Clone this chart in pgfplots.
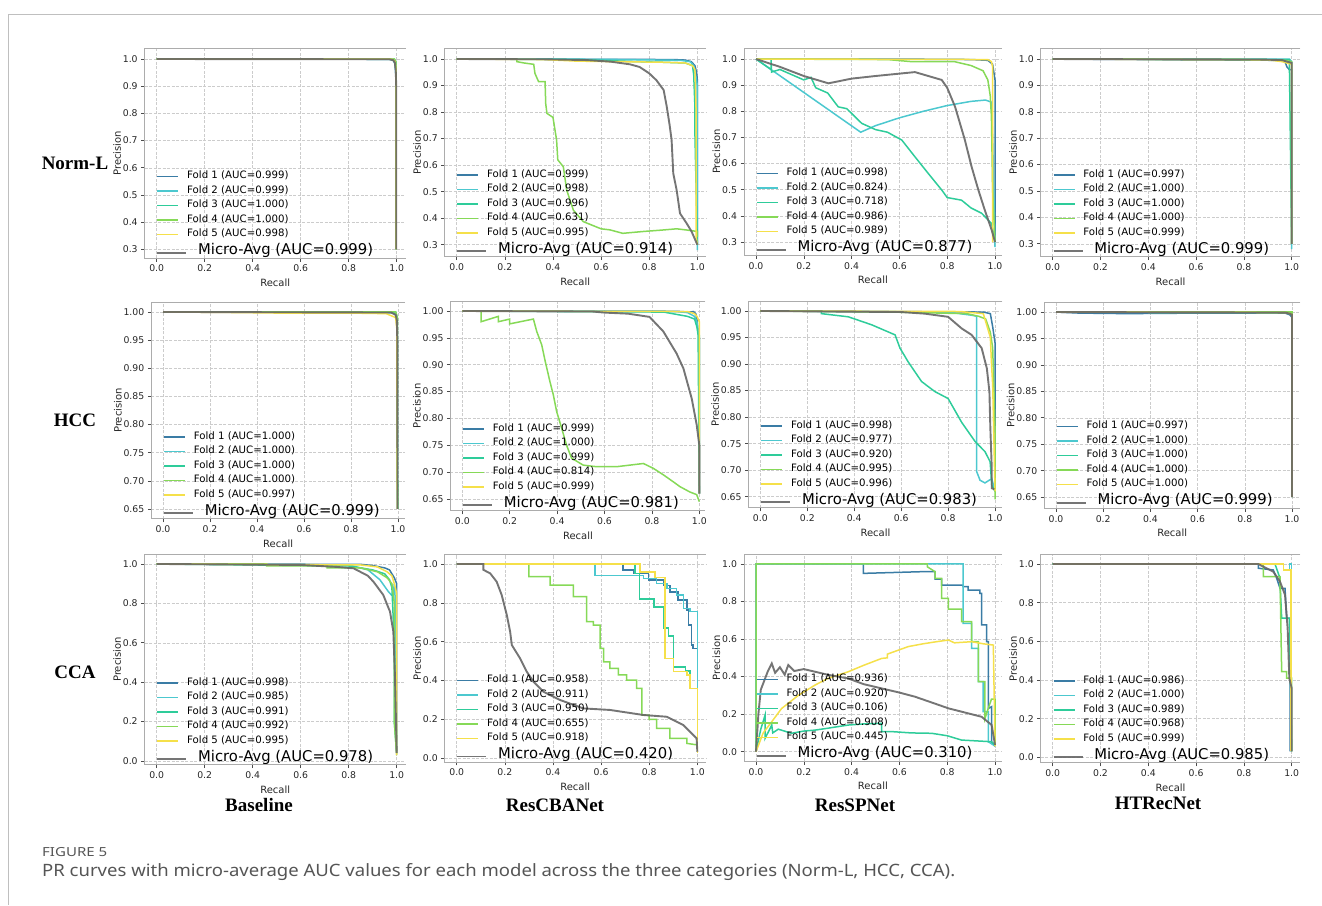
\documentclass[border=0pt]{standalone}
\usepackage{fontspec}
\setmainfont{DejaVu Sans}
\newfontfamily\timesf{Liberation Serif}
\newfontfamily\capf{Noto Sans}
\usepackage{graphicx}
\usepackage{pgfplots}
\pgfplotsset{compat=1.18}
\definecolor{cf1}{HTML}{3A7CA5}
\definecolor{cf2}{HTML}{4CC8CF}
\definecolor{cf3}{HTML}{2ECC9A}
\definecolor{cf4}{HTML}{86D957}
\definecolor{cf5}{HTML}{F5E04A}
\definecolor{cmi}{HTML}{666666}
\definecolor{capgray}{HTML}{555555}
\pgfplotsset{
  legend image code/.code={\draw[#1] (0pt,0pt) -- (21pt,0pt);},
  f1/.style={cf1, line width=1.5pt},
  f2/.style={cf2, line width=1.5pt},
  f3/.style={cf3, line width=1.5pt},
  f4/.style={cf4, line width=1.5pt},
  f5/.style={cf5, line width=1.5pt},
  mi/.style={cmi, line width=1.9pt, opacity=0.9,
    legend image code/.code={\draw[##1,overlay] (0pt,-3.7pt) -- (29pt,-3.7pt);}},
  pr/.style={
    anchor=north west,
    axis line style={draw=none},
    xtick pos=lower, ytick pos=left,
    tick align=outside, major tick length=3.5pt,
    tick style={black!70, line width=0.6pt},
    grid=major,
    grid style={gray!40, dash pattern=on 3pt off 1.5pt, line width=0.5pt},
    xmin=-0.05,
    xtick={0,0.2,0.4,0.6,0.8,1},
    xticklabels={0.0,0.2,0.4,0.6,0.8,1.0},
    ticklabel style={font=\fontsize{9.3}{9.3}\selectfont, text=black!85},
    xlabel={Recall}, ylabel={Precision}, ylabel shift=-5pt,
    label style={font=\fontsize{10}{10}\selectfont, text=black!85},
    legend cell align=left,
    legend style={draw=none, fill=none, at={(0,0)}, anchor=north west,
      xshift=12pt, yshift=86.4pt, inner sep=0pt, outer sep=0pt,
      row sep=5pt, column sep=8pt, font=\fontsize{10.2}{10.2}\selectfont,
      nodes={inner sep=0pt, text height=7pt, text depth=2.5pt}},
    extra description/.code={\draw[gray!65, line width=0.8pt] (1,1) -- (0,1) -- (0,0) -- (1,0);},
  },
  r1/.style={ytick={0.3,0.4,0.5,0.6,0.7,0.8,0.9,1.0}, yticklabels={0.3,0.4,0.5,0.6,0.7,0.8,0.9,1.0}},
  r2/.style={ytick={0.65,0.7,0.75,0.8,0.85,0.9,0.95,1}, yticklabels={0.65,0.70,0.75,0.80,0.85,0.90,0.95,1.00}},
  r3/.style={ytick={0,0.2,0.4,0.6,0.8,1}, yticklabels={0.0,0.2,0.4,0.6,0.8,1.0}},
}
\newcommand{\micro}[1]{\addlegendentry{\hspace*{11pt}\raisebox{-3.7pt}{\fontsize{14.8}{14.8}\selectfont Micro-Avg (AUC=#1)}}}
\newcommand{\captext}{PR curves with micro-average AUC values for each model across the three categories (Norm-L, HCC, CCA).}
\newlength{\capw}
\newlength{\figw}
\begin{document}%
\settowidth{\capw}{\capf\fontsize{17}{17}\selectfont \captext}%
\settowidth{\figw}{\capf\bfseries\fontsize{12.5}{12.5}\selectfont FIGURE 5}%
\pgfmathsetmacro{\capsx}{913/(\capw/1pt)}%
\pgfmathsetmacro{\figsx}{65/(\figw/1pt)}%
\begin{tikzpicture}
\path[use as bounding box] (0pt,0pt) rectangle (1322pt,-905pt);
\draw[gray!50, line width=0.8pt] (8pt,-14pt) -- (1322pt,-14pt);
\draw[gray!50, line width=0.8pt] (8pt,-14pt) -- (8pt,-905pt);

% ================= Row 1: Norm-L =================
\begin{axis}[pr, r1, at={(144.7pt,-48.4pt)}, x=240pt, y=271.9pt, xmax=1.0375, ymin=0.268, ymax=1.039]
\addplot[f1] coordinates {(0,1)(0.97,0.999)(0.985,0.995)(0.992,0.985)(0.996,0.95)(0.998,0.85)(0.998,0.3)};
\addlegendentry{Fold 1 (AUC=0.999)}
\addplot[f2] coordinates {(0,1)(0.975,0.999)(0.988,0.995)(0.994,0.98)(0.997,0.93)(0.998,0.3)};
\addlegendentry{Fold 2 (AUC=0.999)}
\addplot[f3] coordinates {(0,1)(0.99,1.0)(0.997,0.99)(0.998,0.3)};
\addlegendentry{Fold 3 (AUC=1.000)}
\addplot[f4] coordinates {(0,1)(0.99,1.0)(0.997,0.99)(0.998,0.3)};
\addlegendentry{Fold 4 (AUC=1.000)}
\addplot[f5] coordinates {(0,1)(0.97,1.0)(0.985,0.998)(0.993,0.99)(0.997,0.96)(0.998,0.3)};
\addlegendentry{Fold 5 (AUC=0.998)}
\addplot[mi] coordinates {(0,1)(0.97,0.999)(0.985,0.996)(0.992,0.988)(0.996,0.96)(0.998,0.9)(0.998,0.3)};
\micro{0.999}
\end{axis}

\begin{axis}[pr, r1, at={(444.7pt,-48.4pt)}, x=240.6pt, y=265.3pt, xmax=1.035, ymin=0.255, ymax=1.04]
\addplot[f1] coordinates {(0,1)(0.9,0.998)(0.95,0.996)(0.975,0.99)(0.99,0.975)(0.997,0.95)(1.0,0.92)(1.0,0.3)};
\addlegendentry{Fold 1 (AUC=0.999)}
\addplot[f2] coordinates {(0,1)(0.6,0.999)(0.93,0.995)(0.97,0.99)(0.985,0.975)(0.99,0.95)(0.995,0.93)(1.0,0.9)(1.0,0.28)};
\addlegendentry{Fold 2 (AUC=0.998)}
\addplot[f3] coordinates {(0,1)(0.5,0.998)(0.75,0.99)(0.85,0.988)(0.95,0.985)(0.98,0.975)(0.985,0.94)(0.99,0.82)(0.99,0.72)(1.0,0.3)};
\addlegendentry{Fold 3 (AUC=0.996)}
\addplot[f4] coordinates {(0,1)(0.25,1.0)(0.25,0.99)(0.28,0.985)(0.32,0.98)(0.325,0.946)(0.34,0.915)(0.367,0.915)(0.37,0.83)(0.375,0.795)(0.40,0.78)(0.415,0.695)(0.42,0.62)(0.443,0.594)(0.457,0.506)(0.485,0.43)(0.526,0.387)(0.6,0.36)(0.637,0.356)(0.69,0.343)(0.776,0.35)(0.85,0.355)(0.914,0.36)(0.96,0.355)(1.0,0.35)(1.0,0.33)};
\addlegendentry{Fold 4 (AUC=0.631)}
\addplot[f5] coordinates {(0,1)(0.36,0.998)(0.5,0.992)(0.85,0.988)(0.95,0.985)(0.98,0.975)(0.99,0.96)(0.995,0.8)(0.995,0.33)(1.0,0.3)};
\addlegendentry{Fold 5 (AUC=0.995)}
\addplot[mi] coordinates {(0,1)(0.36,0.999)(0.54,0.996)(0.64,0.99)(0.72,0.98)(0.76,0.97)(0.80,0.946)(0.83,0.92)(0.86,0.883)(0.873,0.82)(0.885,0.75)(0.893,0.695)(0.9,0.569)(0.914,0.506)(0.928,0.418)(0.956,0.38)(0.976,0.35)(1.0,0.3)};
\micro{0.914}
\end{axis}

\begin{axis}[pr, r1, at={(744.05pt,-48.3pt)}, x=239pt, y=261.4pt, xmax=1.028, ymin=0.25, ymax=1.041]
\addplot[f1] coordinates {(0,1)(0.55,1.0)(0.9,0.998)(0.97,0.995)(0.99,0.98)(0.995,0.95)(1.0,0.92)(1.0,0.82)(1.0,0.3)};
\addlegendentry{Fold 1 (AUC=0.998)}
\addplot[f2] coordinates {(0,1)(0.438,0.72)(0.5,0.745)(0.6,0.775)(0.7,0.80)(0.8,0.822)(0.9,0.838)(0.96,0.843)(0.985,0.835)(0.99,0.7)(1.0,0.28)};
\addlegendentry{Fold 2 (AUC=0.824)}
\addplot[f3] coordinates {(0,1)(0.063,0.96)(0.063,1.0)(0.065,0.95)(0.1,0.96)(0.15,0.94)(0.2,0.92)(0.23,0.93)(0.25,0.89)(0.3,0.87)(0.344,0.817)(0.38,0.81)(0.442,0.754)(0.5,0.73)(0.55,0.72)(0.61,0.69)(0.665,0.626)(0.72,0.563)(0.777,0.499)(0.8,0.47)(0.86,0.46)(0.9,0.43)(0.944,0.41)(0.986,0.37)(1.0,0.3)};
\addlegendentry{Fold 3 (AUC=0.718)}
\addplot[f4] coordinates {(0,1)(0.55,0.998)(0.65,0.99)(0.83,0.99)(0.9,0.975)(0.95,0.955)(0.97,0.92)(0.98,0.86)(0.985,0.78)(0.99,0.5)(1.0,0.3)};
\addlegendentry{Fold 4 (AUC=0.986)}
\addplot[f5] coordinates {(0,1)(0.97,0.998)(0.985,0.99)(0.99,0.97)(0.99,0.3)};
\addlegendentry{Fold 5 (AUC=0.989)}
\addplot[mi] coordinates {(0,1)(0.1,0.97)(0.2,0.935)(0.303,0.907)(0.4,0.925)(0.5,0.935)(0.665,0.95)(0.777,0.92)(0.8,0.89)(0.833,0.817)(0.874,0.69)(0.902,0.588)(0.93,0.50)(0.958,0.42)(0.986,0.346)(1.0,0.3)};
\micro{0.877}
\end{axis}

\begin{axis}[pr, r1, at={(1040.75pt,-48.2pt)}, x=239pt, y=263.9pt, xmax=1.036, ymin=0.251, ymax=1.041]
\addplot[f1] coordinates {(0,1)(0.97,0.995)(0.98,0.97)(0.99,0.96)(1.0,0.96)(1.0,0.3)};
\addlegendentry{Fold 1 (AUC=0.997)}
\addplot[f2] coordinates {(0,1)(0.99,1.0)(1.0,0.99)(1.0,0.28)};
\addlegendentry{Fold 2 (AUC=1.000)}
\addplot[f3] coordinates {(0,1)(0.99,0.998)(1.0,0.3)};
\addlegendentry{Fold 3 (AUC=1.000)}
\addplot[f4] coordinates {(0,1)(0.87,0.998)(0.97,0.995)(1.0,0.99)(1.0,0.3)};
\addlegendentry{Fold 4 (AUC=1.000)}
\addplot[f5] coordinates {(0,1)(0.9,0.997)(0.96,0.99)(0.98,0.985)(1.0,0.98)(1.0,0.3)};
\addlegendentry{Fold 5 (AUC=0.999)}
\addplot[mi] coordinates {(0,1)(0.87,0.998)(0.96,0.996)(0.98,0.99)(1.0,0.985)(1.0,0.3)};
\micro{0.999}
\end{axis}

% ================= Row 2: HCC =================
\begin{axis}[pr, r2, at={(151.25pt,-302.1pt)}, x=235pt, y=562.9pt, xmax=1.03, ymin=0.6325, ymax=1.0175]
\addplot[f1] coordinates {(0,1)(0.98,0.999)(0.99,0.995)(0.995,0.98)(0.997,0.95)(0.998,0.65)};
\addlegendentry{Fold 1 (AUC=1.000)}
\addplot[f2] coordinates {(0,1)(0.98,0.999)(0.99,0.996)(0.995,0.985)(0.998,0.65)};
\addlegendentry{Fold 2 (AUC=1.000)}
\addplot[f3] coordinates {(0,1)(0.99,1.0)(0.997,0.99)(0.998,0.65)};
\addlegendentry{Fold 3 (AUC=1.000)}
\addplot[f4] coordinates {(0,1)(0.99,1.0)(0.997,0.99)(0.998,0.65)};
\addlegendentry{Fold 4 (AUC=1.000)}
\addplot[f5] coordinates {(0,1)(0.3,0.999)(0.5,0.998)(0.8,0.998)(0.95,0.997)(0.99,0.99)(0.995,0.97)(0.997,0.65)};
\addlegendentry{Fold 5 (AUC=0.997)}
\addplot[mi] coordinates {(0,1)(0.97,0.999)(0.99,0.995)(0.995,0.985)(0.997,0.95)(0.998,0.65)};
\micro{0.999}
\end{axis}

\begin{axis}[pr, r2, at={(450.45pt,-301pt)}, x=237pt, y=537pt, xmax=1.026, ymin=0.628, ymax=1.0186]
\addplot[f1] coordinates {(0,1)(0.9,0.9995)(0.96,0.998)(0.975,0.999)(0.985,0.995)(0.99,0.985)(0.995,0.96)(1.0,0.95)(1.0,0.66)};
\addlegendentry{Fold 1 (AUC=0.999)}
\addplot[f2] coordinates {(0,1)(0.9,0.999)(0.95,0.997)(0.98,0.99)(0.99,0.98)(0.995,0.96)(1.0,0.955)(1.0,0.66)};
\addlegendentry{Fold 2 (AUC=1.000)}
\addplot[f3] coordinates {(0,1)(0.85,0.998)(0.95,0.99)(0.98,0.985)(0.99,0.97)(0.995,0.955)(1.0,0.66)};
\addlegendentry{Fold 3 (AUC=0.999)}
\addplot[f4] coordinates {(0,1)(0.079,1)(0.079,0.98)(0.152,0.99)(0.152,0.98)(0.2,0.985)(0.2,0.976)(0.3,0.985)(0.314,0.962)(0.335,0.937)(0.35,0.906)(0.37,0.868)(0.384,0.844)(0.398,0.813)(0.419,0.782)(0.44,0.75)(0.461,0.726)(0.51,0.713)(0.567,0.71)(0.65,0.71)(0.764,0.716)(0.806,0.707)(0.848,0.695)(0.89,0.682)(0.918,0.673)(0.96,0.663)(0.989,0.658)(1.0,0.645)};
\addlegendentry{Fold 4 (AUC=0.814)}
\addplot[f5] coordinates {(0,1)(0.95,0.999)(0.98,0.995)(0.99,0.99)(1.0,0.98)(1.0,0.75)(1.0,0.66)};
\addlegendentry{Fold 5 (AUC=0.999)}
\addplot[mi] coordinates {(0,1)(0.55,0.999)(0.6,0.997)(0.7,0.995)(0.79,0.989)(0.848,0.962)(0.904,0.921)(0.933,0.893)(0.968,0.837)(0.989,0.788)(1.0,0.75)(1.0,0.66)};
\micro{0.981}
\end{axis}

\begin{axis}[pr, r2, at={(748.6pt,-301pt)}, x=234.7pt, y=530.6pt, xmax=1.031, ymin=0.629, ymax=1.0188]
\addplot[f1] coordinates {(0,1)(0.95,0.998)(0.98,0.995)(0.99,0.97)(1.0,0.94)(1.0,0.66)};
\addlegendentry{Fold 1 (AUC=0.998)}
\addplot[f2] coordinates {(0,1)(0.8,0.998)(0.9,0.992)(0.922,0.99)(0.922,0.697)(0.936,0.681)(0.957,0.676)(0.986,0.684)(1.0,0.66)};
\addlegendentry{Fold 2 (AUC=0.977)}
\addplot[f3] coordinates {(0,1)(0.26,1.0)(0.26,0.995)(0.375,0.989)(0.474,0.974)(0.574,0.955)(0.595,0.93)(0.63,0.904)(0.687,0.867)(0.744,0.848)(0.80,0.835)(0.858,0.79)(0.915,0.754)(0.957,0.735)(0.979,0.716)(0.986,0.672)(1.0,0.66)};
\addlegendentry{Fold 3 (AUC=0.920)}
\addplot[f4] coordinates {(0,1)(0.55,0.998)(0.88,0.995)(0.93,0.99)(0.96,0.985)(0.98,0.96)(0.99,0.93)(1.0,0.78)(1.0,0.645)};
\addlegendentry{Fold 4 (AUC=0.995)}
\addplot[f5] coordinates {(0,1)(0.85,0.999)(0.95,0.995)(0.96,0.98)(0.98,0.95)(0.985,0.9)(0.99,0.86)(1.0,0.66)};
\addlegendentry{Fold 5 (AUC=0.996)}
\addplot[mi] coordinates {(0,1)(0.6,0.998)(0.7,0.995)(0.80,0.989)(0.858,0.967)(0.90,0.955)(0.943,0.93)(0.965,0.892)(0.976,0.848)(0.98,0.779)(0.986,0.704)(0.986,0.666)(0.997,0.664)};
\micro{0.983}
\end{axis}

\begin{axis}[pr, r2, at={(1044.2pt,-302.2pt)}, x=236pt, y=528.6pt, xmax=1.035, ymin=0.629, ymax=1.0186]
\addplot[f1] coordinates {(0,1)(0.1,0.998)(0.3,0.997)(0.6,0.998)(0.97,0.998)(0.99,0.995)(1.0,0.99)(1.0,0.65)};
\addlegendentry{Fold 1 (AUC=0.997)}
\addplot[f2] coordinates {(0,1)(1.0,1.0)(1.0,0.65)};
\addlegendentry{Fold 2 (AUC=1.000)}
\addplot[f3] coordinates {(0,1)(0.99,0.999)(1.0,0.998)(1.0,0.65)};
\addlegendentry{Fold 3 (AUC=1.000)}
\addplot[f4] coordinates {(0,1)(1.0,1.0)(1.0,0.65)};
\addlegendentry{Fold 4 (AUC=1.000)}
\addplot[f5] coordinates {(0,1)(0.97,0.999)(0.99,0.997)(1.0,0.995)(1.0,0.65)};
\addlegendentry{Fold 5 (AUC=1.000)}
\addplot[mi] coordinates {(0,1)(0.97,0.999)(0.99,0.997)(1.0,0.995)(1.0,0.65)};
\micro{0.999}
\end{axis}

% ================= Row 3: CCA =================
\begin{axis}[pr, r3, at={(144.7pt,-554.4pt)}, x=240pt, y=197pt, xmax=1.0375, ymin=-0.0185, ymax=1.0485]
\addplot[f1] coordinates {(0,1)(0.85,0.998)(0.9,0.992)(0.95,0.98)(0.97,0.97)(0.98,0.95)(0.99,0.93)(1.0,0.9)(1.0,0.05)};
\addlegendentry{Fold 1 (AUC=0.998)}
\addplot[f2] coordinates {(0,1)(0.8,0.995)(0.88,0.97)(0.93,0.92)(0.965,0.86)(0.98,0.84)(0.985,0.84)(0.99,0.9)(0.993,0.84)(0.995,0.7)(1.0,0.05)};
\addlegendentry{Fold 2 (AUC=0.985)}
\addplot[f3] coordinates {(0,1)(0.8,0.99)(0.9,0.97)(0.95,0.95)(0.97,0.92)(0.98,0.88)(0.99,0.6)(0.99,0.2)(1.0,0.04)};
\addlegendentry{Fold 3 (AUC=0.991)}
\addplot[f4] coordinates {(0,1)(0.458,1.0)(0.458,0.99)(0.71,0.99)(0.71,0.98)(0.85,0.98)(0.92,0.96)(0.96,0.93)(0.98,0.9)(0.99,0.8)(0.99,0.2)(1.0,0.03)};
\addlegendentry{Fold 4 (AUC=0.992)}
\addplot[f5] coordinates {(0,1)(0.85,0.995)(0.92,0.985)(0.96,0.96)(0.98,0.94)(0.99,0.9)(1.0,0.85)(1.0,0.03)};
\addlegendentry{Fold 5 (AUC=0.995)}
\addplot[mi] coordinates {(0,1)(0.6,0.995)(0.75,0.985)(0.82,0.978)(0.88,0.94)(0.903,0.91)(0.944,0.843)(0.972,0.758)(0.986,0.657)(0.993,0.42)(1.0,0.04)};
\micro{0.978}
\end{axis}

\begin{axis}[pr, r3, at={(444.7pt,-554.6pt)}, x=240.6pt, y=194.3pt, xmax=1.035, ymin=-0.0185, ymax=1.0485]
\addplot[f1] coordinates {(0,1)(0.69,1.0)(0.69,0.97)(0.734,0.97)(0.734,0.95)(0.796,0.95)(0.796,0.918)(0.859,0.918)(0.859,0.89)(0.886,0.89)(0.886,0.857)(0.92,0.857)(0.92,0.815)(0.956,0.815)(0.956,0.763)(0.963,0.763)(0.963,0.686)(0.976,0.686)(0.976,0.583)(0.983,0.583)(0.983,0.566)(1.0,0.566)(1.0,0.03)};
\addlegendentry{Fold 1 (AUC=0.958)}
\addplot[f2] coordinates {(0,1)(0.575,1.0)(0.575,0.94)(0.776,0.94)(0.776,0.926)(0.831,0.926)(0.831,0.90)(0.873,0.90)(0.873,0.875)(0.914,0.875)(0.914,0.84)(0.942,0.84)(0.942,0.772)(0.97,0.772)(0.97,0.755)(1.0,0.755)(1.0,0.74)(1.0,0.36)(1.0,0.03)};
\addlegendentry{Fold 2 (AUC=0.911)}
\addplot[f3] coordinates {(0,1)(0.74,1.0)(0.74,0.95)(0.76,0.95)(0.76,0.82)(0.82,0.82)(0.82,0.78)(0.86,0.78)(0.86,0.67)(0.88,0.67)(0.88,0.63)(0.9,0.63)(0.9,0.47)(0.95,0.47)(0.95,0.45)(0.97,0.45)(0.97,0.36)(1.0,0.36)(1.0,0.03)};
\addlegendentry{Fold 3 (AUC=0.950)}
\addplot[f4] coordinates {(0,1)(0.30,1.0)(0.30,0.935)(0.388,0.935)(0.388,0.892)(0.485,0.892)(0.485,0.832)(0.54,0.832)(0.54,0.703)(0.568,0.703)(0.568,0.686)(0.596,0.686)(0.596,0.566)(0.61,0.566)(0.61,0.497)(0.637,0.497)(0.637,0.463)(0.672,0.463)(0.672,0.429)(0.706,0.429)(0.706,0.403)(0.748,0.403)(0.748,0.36)(0.769,0.36)(0.769,0.223)(0.8,0.223)(0.8,0.2)(0.831,0.2)(0.831,0.154)(0.886,0.154)(0.886,0.103)(0.956,0.103)(0.956,0.077)(1.0,0.069)};
\addlegendentry{Fold 4 (AUC=0.655)}
\addplot[f5] coordinates {(0,1)(0.762,1.0)(0.762,0.96)(0.824,0.96)(0.824,0.93)(0.866,0.93)(0.866,0.515)(0.9,0.515)(0.9,0.446)(0.956,0.446)(0.956,0.43)(0.97,0.43)(0.97,0.36)(1.0,0.36)(1.0,0.03)};
\addlegendentry{Fold 5 (AUC=0.918)}
\addplot[mi] coordinates {(0,1)(0.111,1.0)(0.111,0.97)(0.139,0.952)(0.166,0.909)(0.187,0.84)(0.208,0.738)(0.222,0.652)(0.229,0.583)(0.263,0.515)(0.291,0.446)(0.319,0.394)(0.36,0.343)(0.43,0.30)(0.526,0.257)(0.637,0.249)(0.776,0.223)(0.873,0.214)(0.942,0.171)(0.983,0.12)(0.997,0.103)(1.0,0.034)};
\micro{0.420}
\end{axis}

\begin{axis}[pr, r3, at={(744.05pt,-554.6pt)}, x=239pt, y=187.7pt, xmax=1.028, ymin=-0.05, ymax=1.05]
\addplot[f1] coordinates {(0,0)(0,1)(0.449,1)(0.449,0.95)(0.72,0.96)(0.749,0.96)(0.749,0.92)(0.777,0.92)(0.777,0.888)(0.867,0.888)(0.867,0.879)(0.888,0.879)(0.888,0.861)(0.937,0.861)(0.937,0.844)(0.944,0.844)(0.944,0.675)(0.965,0.675)(0.965,0.586)(0.972,0.586)(0.972,0.23)(0.986,0.24)(0.986,0.05)(1.0,0.03)};
\addlegendentry{Fold 1 (AUC=0.936)}
\addplot[f2] coordinates {(0,0)(0,1)(0.867,1)(0.867,0.684)(0.902,0.684)(0.902,0.55)(0.93,0.55)(0.93,0.373)(0.95,0.373)(0.95,0.213)(0.972,0.213)(0.972,0.053)(1.0,0.03)};
\addlegendentry{Fold 2 (AUC=0.920)}
\addplot[f3] coordinates {(0,0)(0.02,0.12)(0.038,0.195)(0.038,0.071)(0.066,0.142)(0.07,0.1)(0.093,0.12)(0.149,0.098)(0.2,0.11)(0.247,0.115)(0.3,0.125)(0.386,0.142)(0.45,0.148)(0.526,0.151)(0.526,0.107)(0.568,0.107)(0.65,0.1)(0.735,0.098)(0.8,0.085)(0.86,0.062)(0.986,0.053)(1.0,0.036)};
\addlegendentry{Fold 3 (AUC=0.106)}
\addplot[f4] coordinates {(0,0)(0,1)(0.717,1)(0.717,0.985)(0.749,0.959)(0.749,0.924)(0.777,0.924)(0.777,0.817)(0.805,0.817)(0.805,0.76)(0.86,0.76)(0.86,0.693)(0.902,0.693)(0.902,0.586)(0.93,0.586)(0.93,0.373)(0.958,0.373)(0.958,0.178)(0.985,0.28)(1.0,0.28)(1.0,0.03)};
\addlegendentry{Fold 4 (AUC=0.908)}
\addplot[f5] coordinates {(0,0)(0.03,0.1)(0.066,0.16)(0.107,0.23)(0.177,0.30)(0.247,0.355)(0.3,0.39)(0.386,0.426)(0.45,0.46)(0.526,0.497)(0.55,0.5)(0.55,0.52)(0.637,0.56)(0.7,0.575)(0.75,0.585)(0.805,0.595)(0.83,0.58)(0.902,0.586)(0.95,0.575)(0.993,0.568)(1.0,0.03)};
\addlegendentry{Fold 5 (AUC=0.445)}
\addplot[mi] coordinates {(0,0)(0.01,0.2)(0.02,0.33)(0.035,0.38)(0.05,0.43)(0.066,0.47)(0.08,0.42)(0.1,0.45)(0.12,0.41)(0.135,0.462)(0.16,0.43)(0.2,0.44)(0.247,0.426)(0.3,0.41)(0.386,0.39)(0.45,0.36)(0.526,0.337)(0.6,0.315)(0.665,0.293)(0.74,0.26)(0.805,0.231)(0.87,0.21)(0.944,0.186)(0.986,0.142)(1.0,0.036)};
\micro{0.310}
\end{axis}

\begin{axis}[pr, r3, at={(1040.75pt,-554.5pt)}, x=239pt, y=193.3pt, xmax=1.036, ymin=-0.029, ymax=1.049]
\addplot[f1] coordinates {(0,1)(0.86,1)(0.86,0.978)(0.923,0.969)(0.937,0.926)(0.951,0.874)(0.972,0.874)(0.979,0.719)(0.993,0.719)(0.993,0.03)};
\addlegendentry{Fold 1 (AUC=0.986)}
\addplot[f2] coordinates {(0,1)(0.965,1)(0.965,0.97)(0.99,0.97)(0.99,1.0)(1.0,1.0)(1.0,0.03)};
\addlegendentry{Fold 2 (AUC=1.000)}
\addplot[f3] coordinates {(0,1)(0.93,1)(0.95,0.93)(0.958,0.72)(0.99,0.72)(1.0,0.03)};
\addlegendentry{Fold 3 (AUC=0.989)}
\addplot[f4] coordinates {(0,1)(0.881,1)(0.881,0.934)(0.951,0.934)(0.958,0.443)(0.979,0.443)(0.979,0.409)(1.0,0.409)(1.0,0.03)};
\addlegendentry{Fold 4 (AUC=0.968)}
\addplot[f5] coordinates {(0,1)(0.965,1)(0.965,0.97)(0.997,0.97)(0.997,0.03)};
\addlegendentry{Fold 5 (AUC=0.999)}
\addplot[mi] coordinates {(0,1)(0.86,1)(0.881,0.986)(0.923,0.96)(0.951,0.909)(0.972,0.84)(0.983,0.667)(0.99,0.409)(1.0,0.357)(1.0,0.03)};
\micro{0.985}
\end{axis}

% ================= labels =================
\begin{scope}[every node/.style={font=\timesf\bfseries\fontsize{19}{19}\selectfont, text=black, inner sep=0pt}]
\node at (75pt,-163pt) {Norm-L};
\node at (75pt,-420pt) {HCC};
\node at (75pt,-672pt) {CCA};
\node at (259pt,-805pt) {Baseline};
\node at (555pt,-805pt) {ResCBANet};
\node at (855pt,-805pt) {ResSPNet};
\node at (1158pt,-803pt) {HTRecNet};
\end{scope}
\node[anchor=west, inner sep=0pt, text=capgray] at (42pt,-852pt) {\scalebox{\figsx}[1]{\capf\bfseries\fontsize{12.5}{12.5}\selectfont FIGURE 5}};
\node[anchor=west, inner sep=0pt, text=capgray] at (42pt,-872pt) {\scalebox{\capsx}[1]{\capf\fontsize{17}{17}\selectfont \captext}};
\end{tikzpicture}
\end{document}
